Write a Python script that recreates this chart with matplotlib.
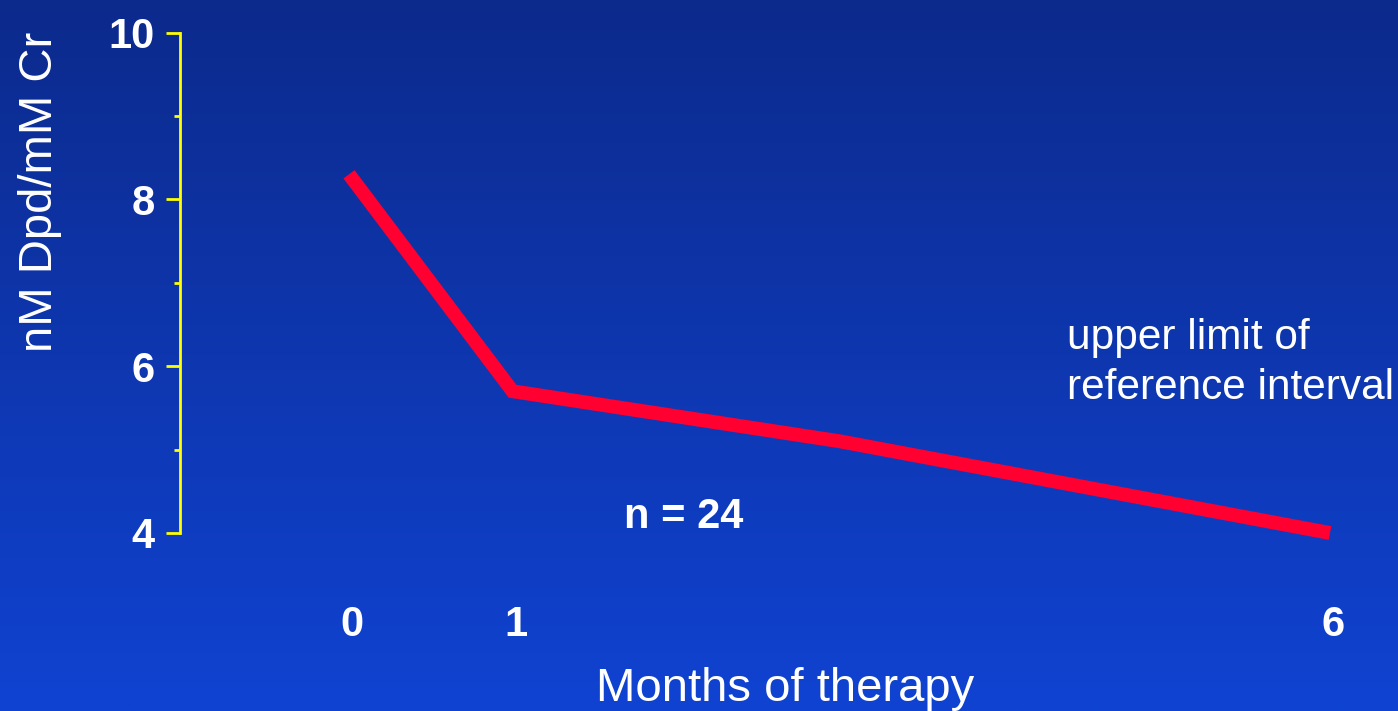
import numpy as np
import matplotlib
matplotlib.use("Agg")
import matplotlib.pyplot as plt
from matplotlib.colors import LinearSegmentedColormap
from matplotlib.transforms import ScaledTranslation

# Data
months = [0, 1, 3, 6]
dpd = [8.3, 5.7, 5.1, 4.0]
xtick_vals = [0, 1, 6]
xtick_labels = ["0", "1", "6"]
ytick_major = [4, 6, 8, 10]
ytick_minor = [5, 7, 9]

W, H = 1398, 711
fig = plt.figure(figsize=(W / 100, H / 100), dpi=100)
plt.rcParams['font.family'] = ['Liberation Sans', 'DejaVu Sans']

# Gradient background
bg = fig.add_axes([0, 0, 1, 1], zorder=0)
grad = np.linspace(0, 1, 256).reshape(-1, 1)
cmap = LinearSegmentedColormap.from_list("bg", ["#0C2A8C", "#1043D2"])
bg.imshow(grad, aspect="auto", cmap=cmap, extent=[0, 1, 0, 1], origin="upper")
bg.set_axis_off()

# Main axes
left_px, right_px = 180, 1398
top_px, bot_px = 32.5, 533
ax = fig.add_axes([left_px / W, 1 - bot_px / H, (right_px - left_px) / W, (bot_px - top_px) / H], zorder=1)
ax.set_facecolor("none")
x0, scale = 349, 163.5
ax.set_xlim((left_px - x0) / scale, (right_px - x0) / scale)
ax.set_ylim(4, 10)

ax.plot(months, dpd, color="#FF0030", lw=10, solid_capstyle="butt", solid_joinstyle="miter", clip_on=False)

for s in ["top", "right", "bottom"]:
    ax.spines[s].set_visible(False)
ax.spines["left"].set_color("#FFFF00")
ax.spines["left"].set_linewidth(2)

ax.set_yticks(ytick_major)
ax.set_yticks(ytick_minor, minor=True)
ax.set_yticklabels([str(v) for v in ytick_major])
ax.tick_params(axis="y", which="major", colors="#FFFF00", length=10, width=2, pad=8,
               labelcolor="white", labelsize=30)
ax.tick_params(axis="y", which="minor", colors="#FFFF00", length=4.5, width=2)
for t in ax.get_yticklabels():
    t.set_fontweight("bold")

ax.set_xticks(xtick_vals)
ax.set_xticklabels(xtick_labels)
ax.tick_params(axis="x", length=0, pad=52, labelcolor="white", labelsize=30)
offset = ScaledTranslation(3 / 100, 0, fig.dpi_scale_trans)
for t in ax.get_xticklabels():
    t.set_fontweight("bold")
    t.set_transform(t.get_transform() + offset)

# Labels
fig.text(40 / W, 1 - 192 / H, "nM Dpd/mM Cr", rotation=90, ha="center", va="center",
         color="white", fontsize=34)
fig.text(785 / W, 1 - 689 / H, "Months of therapy", ha="center", va="center",
         color="white", fontsize=34)
fig.text(684 / W, 1 - 517 / H, "n = 24", ha="center", va="center",
         color="white", fontsize=30, fontweight="bold")
fig.text(1067 / W, 1 - 318 / H, "upper limit of\nreference interval", ha="left", va="top",
         color="white", fontsize=30.5, linespacing=1.33)

fig.savefig("out.png", dpi=100)
